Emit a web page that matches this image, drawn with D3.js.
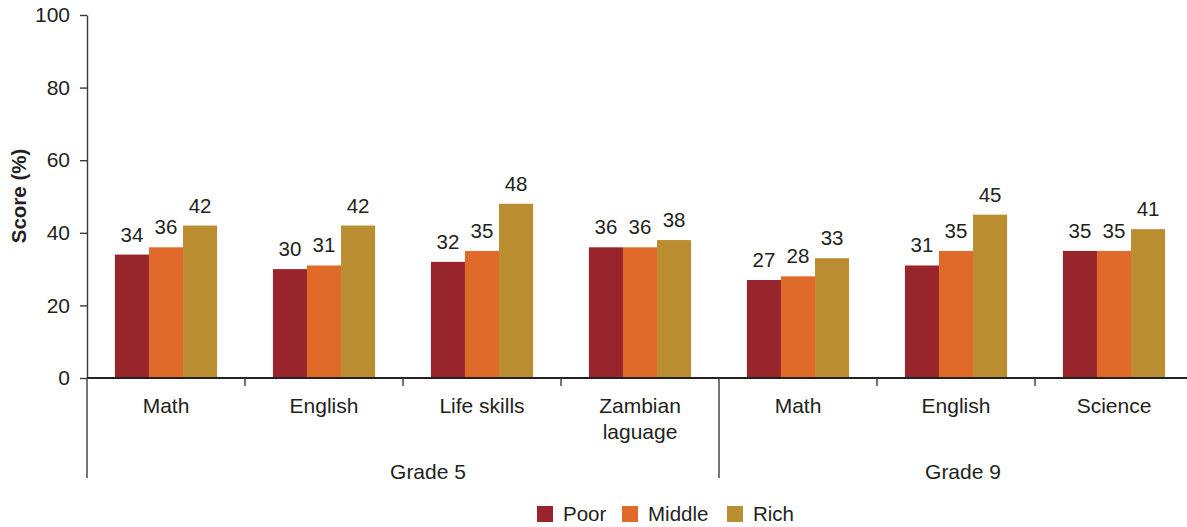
<!DOCTYPE html>
<html>
<head>
<meta charset="utf-8">
<script src="https://cdn.jsdelivr.net/npm/d3@7"></script>
<style>
  html, body { margin: 0; padding: 0; background: #fff; }
  svg { display: block; font-family: "Liberation Sans", Arial, Helvetica, sans-serif; }
</style>
</head>
<body>
<svg id="chart" width="1187" height="527"></svg>
<script>
// Subjects along the x axis, grouped by grade
const subjects = ["Math", "English", "Life skills", "Zambian\nlaguage", "Math", "English", "Science"];
const subjectKeys = ["g5-math", "g5-eng", "g5-life", "g5-zam", "g9-math", "g9-eng", "g9-sci"];
const grades = ["Grade 5", "Grade 9"];
const gradeSpans = [[0, 3], [4, 6]];

// Wealth groups and their scores (%)
const series = ["Poor", "Middle", "Rich"];
const poor   = [34, 30, 32, 36, 27, 31, 35];
const middle = [36, 31, 35, 36, 28, 35, 35];
const rich   = [42, 42, 48, 38, 33, 45, 41];
const values = [poor, middle, rich];

const yTicks = [0, 20, 40, 60, 80, 100];
const colors = ["#98252c", "#e06a2a", "#b98d30"];

const svg = d3.select("#chart");
const textColor = "#231f20";
const axisColor = "#3a3a3a";
const labelSize = 21;
const valueSize = 20.5;

const plotLeft = 87, plotRight = 1193, plotTop = 15, plotBottom = 378;

const x0 = d3.scaleBand().domain(subjectKeys).range([plotLeft, plotRight]).padding(0);
const x1 = d3.scaleBand().domain(series).range([0, x0.bandwidth()])
  .paddingInner(0).paddingOuter(0.82);
const y = d3.scaleLinear().domain([0, 100]).range([plotBottom, plotTop]);
const color = d3.scaleOrdinal().domain(series).range(colors);

// Bars
const groups = svg.append("g").selectAll("g")
  .data(subjectKeys)
  .join("g")
  .attr("transform", d => `translate(${x0(d)},0)`);

groups.selectAll("rect")
  .data((d, i) => series.map((s, j) => ({ s, v: values[j][i] })))
  .join("rect")
  .attr("x", d => x1(d.s))
  .attr("y", d => y(d.v))
  .attr("width", x1.bandwidth())
  .attr("height", d => y(0) - y(d.v))
  .attr("fill", d => color(d.s));

// Value labels above bars
groups.selectAll("text")
  .data((d, i) => series.map((s, j) => ({ s, v: values[j][i] })))
  .join("text")
  .attr("x", d => x1(d.s) + x1.bandwidth() / 2)
  .attr("y", d => y(d.v) - 13)
  .attr("text-anchor", "middle")
  .attr("font-size", valueSize)
  .attr("fill", textColor)
  .text(d => d.v);

// Y axis
const yAxis = svg.append("g")
  .attr("transform", `translate(${plotLeft},0)`)
  .call(d3.axisLeft(y).tickValues(yTicks).tickSize(7).tickPadding(10).tickSizeOuter(0));
yAxis.select(".domain").attr("stroke", axisColor).attr("stroke-width", 1.4);
yAxis.selectAll(".tick line").attr("stroke", axisColor).attr("stroke-width", 1.4);
yAxis.selectAll(".tick text")
  .attr("font-size", labelSize)
  .attr("font-family", "Liberation Sans, Arial, sans-serif")
  .attr("fill", textColor);

svg.append("text")
  .attr("transform", `translate(26,196) rotate(-90)`)
  .attr("text-anchor", "middle")
  .attr("font-size", 20.5)
  .attr("font-weight", "bold")
  .attr("fill", textColor)
  .text("Score (%)");

// X axis baseline
svg.append("line")
  .attr("x1", plotLeft).attr("x2", plotRight)
  .attr("y1", y(0)).attr("y2", y(0))
  .attr("stroke", "#222").attr("stroke-width", 2);

// Short separators between subjects, long ones between grades
const groupEdges = new Set(gradeSpans.map(s => s[0]));
subjectKeys.forEach((k, i) => {
  if (i === 0) return;
  const xe = x0(k);
  const long = groupEdges.has(i);
  svg.append("line")
    .attr("x1", xe).attr("x2", xe)
    .attr("y1", y(0)).attr("y2", long ? 478 : 386)
    .attr("stroke", axisColor).attr("stroke-width", 1.4);
});
// Left edge of the category axis
svg.append("line")
  .attr("x1", plotLeft).attr("x2", plotLeft)
  .attr("y1", y(0)).attr("y2", 478)
  .attr("stroke", axisColor).attr("stroke-width", 1.4);

// Subject labels
subjectKeys.forEach((k, i) => {
  const cx = x0(k) + x0.bandwidth() / 2;
  const t = svg.append("text")
    .attr("x", cx)
    .attr("y", 413)
    .attr("text-anchor", "middle")
    .attr("font-size", labelSize)
    .attr("fill", textColor);
  subjects[i].split("\n").forEach((line, li) => {
    t.append("tspan")
      .attr("x", cx)
      .attr("dy", li === 0 ? 0 : 26)
      .text(line);
  });
});

// Grade labels, nudged right within their span
const gradeShift = [25, 7];
grades.forEach((g, i) => {
  const [a, b] = gradeSpans[i];
  const xa = x0(subjectKeys[a]);
  const xb = x0(subjectKeys[b]) + x0.bandwidth();
  svg.append("text")
    .attr("x", (xa + xb) / 2 + gradeShift[i])
    .attr("y", 479)
    .attr("text-anchor", "middle")
    .attr("font-size", labelSize)
    .attr("fill", textColor)
    .text(g);
});

// Legend
const legendX = [537, 622, 727];
const legend = svg.append("g");
series.forEach((s, i) => {
  legend.append("rect")
    .attr("x", legendX[i]).attr("y", 506)
    .attr("width", 16).attr("height", 16)
    .attr("fill", color(s));
  legend.append("text")
    .attr("x", legendX[i] + 26).attr("y", 521)
    .attr("font-size", valueSize)
    .attr("fill", textColor)
    .text(s);
});
</script>
</body>
</html>
